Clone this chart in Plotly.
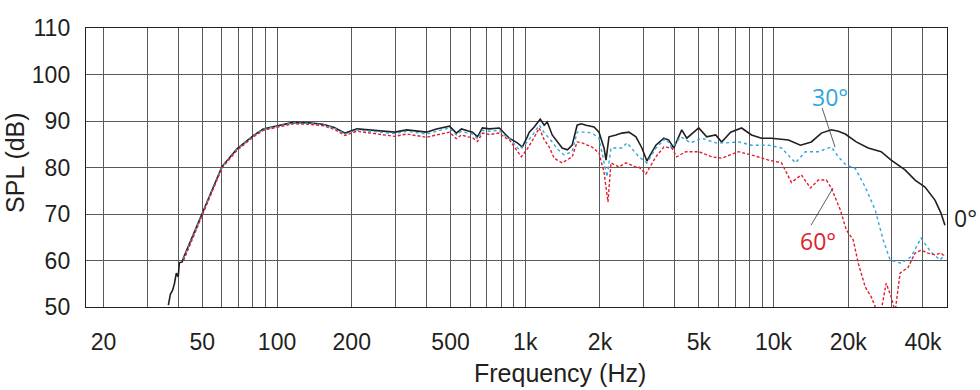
import math
import plotly.graph_objects as go

# ---- data ----
black_f = [36.5, 37.2, 37.9, 38.6, 39.3, 40.0, 40.4, 41.5, 42.0, 46, 50, 55, 60, 69, 80, 88, 100, 116, 135, 153,
           170, 188, 210, 243, 270, 298, 333, 365, 400, 439, 495, 528, 553, 585, 613, 642, 672, 717, 786, 830,
           862, 929, 973, 1019, 1038, 1087, 1149, 1192, 1226, 1284, 1345, 1408, 1480, 1545, 1618, 1679, 1758,
           1893, 1982, 2076, 2115, 2174, 2320, 2452, 2616, 2792, 2951, 3090, 3359, 3616, 3786, 3966, 4270, 4473,
           5000, 5382, 5850, 6184, 6720, 7437, 8157, 8950, 9817, 10770, 11490, 12840, 14210, 15590, 17100,
           18240, 19460, 21540, 24070, 27150, 29780, 33890, 37180, 40770, 44730, 47280, 49060]
black_db = [50.4, 52.8, 53.5, 55.0, 57.3, 56.5, 59.5, 59.7, 60.6, 65.5, 70.3, 75.5, 80.2, 84.0, 86.8, 88.3, 88.9,
            89.7, 89.6, 89.3, 88.6, 87.4, 88.3, 88.0, 87.9, 87.6, 88.1, 87.9, 87.6, 88.3, 88.9, 87.4, 88.3, 87.9,
            87.6, 86.6, 88.5, 88.3, 88.5, 87.2, 86.3, 85.3, 84.4, 86.6, 87.6, 88.7, 90.4, 89.1, 89.8, 87.0, 85.5,
            84.2, 83.8, 84.8, 89.1, 89.4, 89.1, 88.7, 87.6, 84.2, 81.6, 86.6, 87.0, 87.4, 87.6, 86.6, 84.2, 81.4,
            84.8, 86.3, 85.9, 84.2, 88.1, 86.3, 88.5, 86.6, 87.0, 85.5, 87.6, 88.5, 87.0, 86.3, 86.3, 86.0, 85.9,
            84.8, 85.5, 87.4, 88.1, 87.8, 87.2, 85.5, 84.2, 83.4, 81.6, 79.5, 77.3, 75.8, 73.0, 70.2, 67.6]

blue_f = [42.0, 46, 50, 55, 60, 69, 80, 88, 100, 116, 135, 153, 170, 188, 210, 243, 270, 298, 333, 365, 400, 439,
          495, 528, 553, 585, 613, 642, 672, 717, 786, 830, 862, 946, 1019, 1087, 1138, 1192, 1284, 1345, 1434,
          1545, 1618, 1758, 1858, 1982, 2076, 2135, 2215, 2452, 2568, 2740, 2870, 3090, 3359, 3684, 3893, 4231,
          4642, 5140, 5850, 6417, 7235, 8157, 8950, 9548, 10770, 12260, 13440, 15160, 17100, 18240, 19640, 21350,
          23420, 25680, 27660, 29510, 32660, 35820, 39300, 43100, 46840, 49060]
blue_db = [60.4, 65.4, 70.2, 75.4, 80.1, 83.9, 86.7, 88.2, 88.8, 89.6, 89.5, 89.2, 88.5, 87.2, 88.1, 87.8, 87.6,
           87.3, 87.8, 87.5, 87.2, 87.8, 88.5, 87.0, 87.8, 87.4, 87.2, 86.2, 88.0, 87.8, 88.0, 86.8, 86.3, 83.8,
           85.5, 87.5, 89.1, 87.5, 85.5, 84.0, 82.7, 83.4, 87.6, 87.6, 87.4, 86.3, 81.2, 78.0, 84.2, 84.2, 85.3,
           83.4, 82.3, 81.0, 84.2, 86.3, 84.2, 86.6, 85.3, 86.3, 85.3, 85.3, 85.5, 84.8, 84.8, 84.8, 84.2, 81.0,
           83.4, 83.4, 84.4, 82.3, 80.5, 79.8, 75.8, 70.9, 64.4, 60.1, 59.4, 60.8, 64.8, 61.8, 60.1, 61.2]

red_f = [42.0, 46, 50, 55, 60, 69, 80, 88, 100, 116, 135, 153, 170, 188, 210, 243, 270, 298, 333, 365, 400, 439,
         495, 528, 553, 585, 613, 642, 672, 717, 786, 830, 862, 964, 1019, 1087, 1138, 1192, 1249, 1308, 1408,
         1545, 1618, 1694, 1858, 1982, 2076, 2154, 2215, 2385, 2544, 2792, 2870, 3061, 3359, 3616, 3893, 4077,
         4432, 5000, 5637, 6184, 7235, 8157, 8950, 9548, 10770, 11810, 12950, 14080, 15160, 16330, 17100, 18580,
         19640, 20960, 21950, 23420, 24750, 25930, 27000, 28430, 29780, 30900, 32360, 34840, 37180, 39300, 41920,
         44730, 47280, 49060]
red_db = [60.0, 65.1, 70.0, 75.2, 79.9, 83.7, 86.5, 88.0, 88.6, 89.4, 89.3, 89.0, 88.2, 86.9, 87.8, 87.3, 87.1,
          86.7, 87.2, 86.9, 86.5, 87.0, 87.6, 86.2, 87.0, 86.6, 86.4, 85.6, 87.4, 87.1, 87.4, 86.4, 86.0, 82.3,
          84.0, 86.5, 88.5, 86.0, 84.4, 82.0, 81.0, 82.3, 85.5, 85.3, 84.4, 83.1, 79.0, 72.6, 81.0, 80.1, 81.0,
          80.1, 80.1, 78.6, 82.3, 84.4, 84.2, 82.3, 83.4, 83.4, 82.3, 82.0, 83.4, 82.7, 82.0, 81.6, 81.0, 76.8,
          78.4, 75.6, 77.3, 77.3, 75.6, 70.9, 66.6, 64.4, 59.4, 54.3, 52.2, 49.5, 48.5, 55.1, 52.2, 49.0, 57.3,
          58.5, 61.6, 62.2, 61.6, 61.2, 61.6, 60.8]

assert len(black_f) == len(black_db)
assert len(blue_f) == len(blue_db)
assert len(red_f) == len(red_db)

grid_freqs = [20, 30, 40, 50, 60, 70, 80, 90, 100, 200, 300, 400, 500, 600, 700, 800, 900,
              1000, 2000, 3000, 4000, 5000, 6000, 7000, 8000, 9000, 10000, 20000, 30000, 40000]
label_map = {20: "20", 50: "50", 100: "100", 200: "200", 500: "500", 1000: "1k", 2000: "2k",
             5000: "5k", 10000: "10k", 20000: "20k", 40000: "40k"}
y_ticks = [50, 60, 70, 80, 90, 100, 110]

# label annotations (frequency, dB)
label_30 = (16900, 95.2)
label_60 = (15100, 64.2)
label_0_y = 69.1
leader_30_f = [15700, 17700]
leader_30_db = [92.8, 84.4]
leader_60_f = [14170, 17370]
leader_60_db = [67.6, 75.6]

BLACK = "#231f20"
BLUE = "#2ea6de"
RED = "#e0202e"
GRID = "#5a5a5a"
TXT_FONT = "Liberation Sans, Arial, sans-serif"

fig = go.Figure()
fig.add_trace(go.Scatter(x=black_f, y=black_db, mode="lines",
                         line=dict(color=BLACK, width=1.6), showlegend=False))
fig.add_trace(go.Scatter(x=blue_f, y=blue_db, mode="lines",
                         line=dict(color=BLUE, width=1.4, dash="dot"), showlegend=False))
fig.add_trace(go.Scatter(x=red_f, y=red_db, mode="lines",
                         line=dict(color=RED, width=1.4, dash="3px,2px"), showlegend=False))
fig.add_trace(go.Scatter(x=leader_30_f, y=leader_30_db, mode="lines",
                         line=dict(color="#333333", width=0.8), showlegend=False))
fig.add_trace(go.Scatter(x=leader_60_f, y=leader_60_db, mode="lines",
                         line=dict(color="#333333", width=0.8), showlegend=False))

lab_font = "Open Sans, Noto Sans, sans-serif"
fig.add_annotation(x=math.log10(label_30[0]), y=label_30[1], text="30°", showarrow=False,
                   font=dict(family=lab_font, size=23, color=BLUE))
fig.add_annotation(x=math.log10(label_60[0]), y=label_60[1], text="60°", showarrow=False,
                   font=dict(family=lab_font, size=23, color=RED))
fig.add_annotation(xref="paper", x=1.022, y=label_0_y, text="0°", showarrow=False,
                   xanchor="center", font=dict(family=lab_font, size=23, color=BLACK))

# axis titles
fig.add_annotation(xref="paper", yref="paper", x=0.5505, y=-0.236, text="Frequency (Hz)",
                   showarrow=False, xanchor="center", yanchor="middle",
                   font=dict(family=TXT_FONT, size=25, color=BLACK))
fig.add_annotation(xref="paper", yref="paper", x=-0.0825, y=0.52, text="SPL (dB)", textangle=-90,
                   showarrow=False, xanchor="center", yanchor="middle",
                   font=dict(family=TXT_FONT, size=25, color=BLACK))

fig.update_xaxes(type="log", range=[math.log10(17), math.log10(50000)],
                 tickmode="array", tickvals=grid_freqs,
                 ticktext=[label_map.get(f, "") for f in grid_freqs],
                 showgrid=True, gridcolor=GRID, gridwidth=1,
                 showline=True, linecolor=BLACK, linewidth=1.2, mirror=True,
                 ticks="", ticklabelstandoff=14, zeroline=False,
                 tickfont=dict(family=TXT_FONT, size=23, color=BLACK))
fig.update_yaxes(range=[50, 110], tickmode="array", tickvals=y_ticks,
                 showgrid=True, gridcolor=GRID, gridwidth=1,
                 showline=True, linecolor=BLACK, linewidth=1.2, mirror=True,
                 ticks="", ticklabelstandoff=10, zeroline=False,
                 tickfont=dict(family=TXT_FONT, size=23, color=BLACK))

fig.update_layout(width=980, height=390,
                  margin=dict(l=86, r=33, t=28, b=83),
                  paper_bgcolor="white", plot_bgcolor="white")

# remove the page's default 8px body margin so the figure fills the window exactly
fig.write_html("out.html",
               config={"displayModeBar": False, "staticPlot": True},
               post_script="document.body.style.margin='0';document.body.style.overflow='hidden';")
